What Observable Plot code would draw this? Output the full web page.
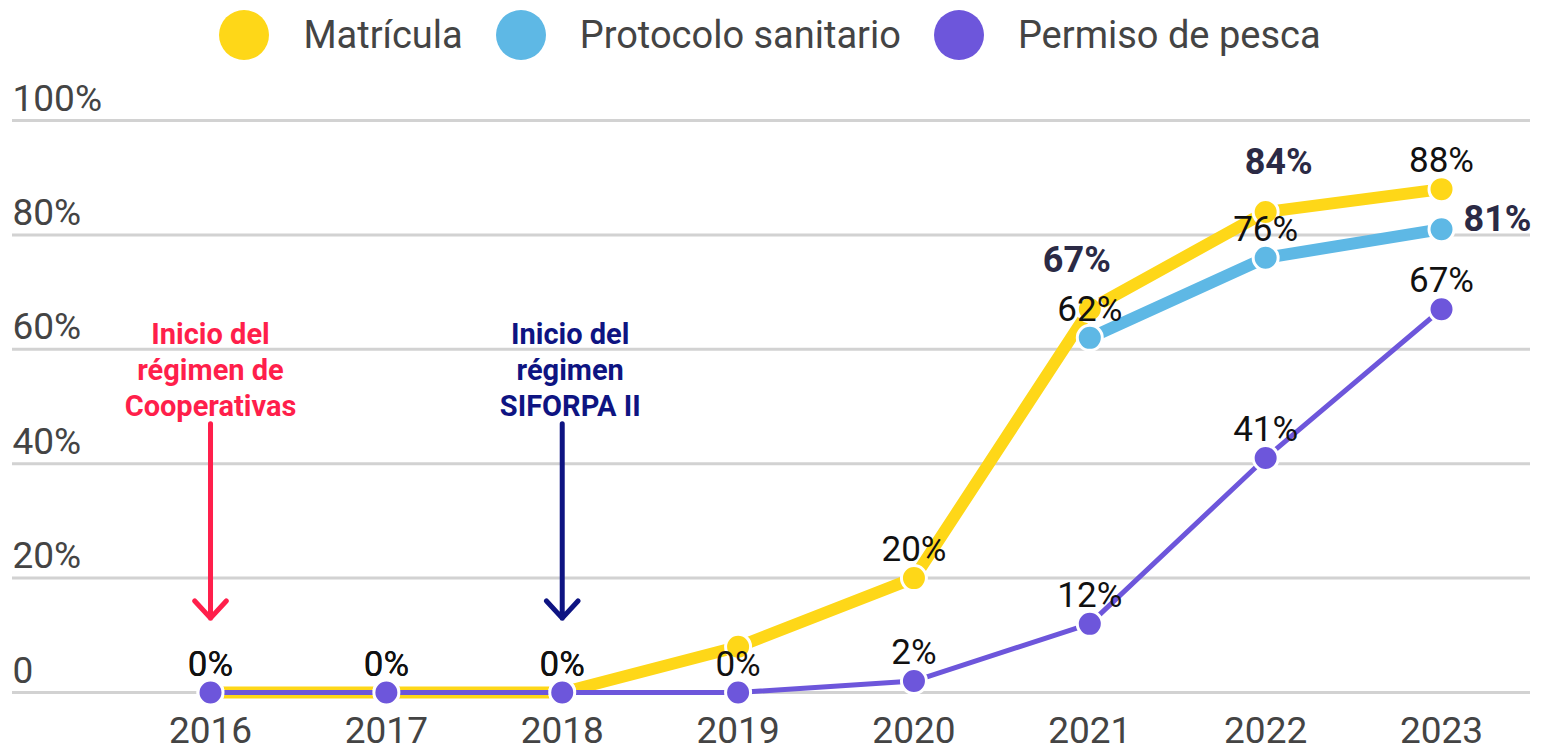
<!DOCTYPE html>
<html>
<head>
<meta charset="utf-8">
<script src="https://cdn.jsdelivr.net/npm/d3@7"></script>
<script src="https://cdn.jsdelivr.net/npm/@observablehq/plot@0.6"></script>
<style>
  html, body { margin: 0; padding: 0; background: #fff; font-family: Roboto, "Noto Sans", sans-serif; }
  #legend { height: 75px; display: flex; align-items: center; justify-content: center; padding: 0 10px 5px 0; box-sizing: border-box; }
  .item { display: flex; align-items: center; margin: 0 16.5px; }
  .sw { width: 50px; height: 50px; border-radius: 50%; margin-right: 34px; }
  .lab { font-size: 38px; color: #444; line-height: 1; }
  #chart svg { display: block; }
</style>
</head>
<body>
<div id="legend"></div>
<div id="chart"></div>
<script>
// ---- data ----
const years = [2016, 2017, 2018, 2019, 2020, 2021, 2022, 2023];
const seriesNames = ["Matrícula", "Protocolo sanitario", "Permiso de pesca"];
const seriesColors = ["#FED718", "#5EB8E5", "#6D56DB"];
const matricula = [0, 0, 0, 8, 20, 67, 84, 88];
const protocoloYears = [2021, 2022, 2023];
const protocolo = [62, 76, 81];
const permiso = [0, 0, 0, 0, 2, 12, 41, 67];
const yTicks = [0, 20, 40, 60, 80, 100];
const yTickLabels = ["0", "20%", "40%", "60%", "80%", "100%"];
const matriculaUnlabeled = [2019];
const annotationYears = [2016, 2018];
const annotationTexts = ["Inicio del\nrégimen de\nCooperativas", "Inicio del\nrégimen\nSIFORPA II"];
const annotationFrom = [47, 47];
const annotationTo = [13, 13];

// ---- tables ----
const rowsM = years.map((y, i) => ({series: seriesNames[0], year: y, value: matricula[i]}));
const rowsP = protocoloYears.map((y, i) => ({series: seriesNames[1], year: y, value: protocolo[i]}));
const rowsS = years.map((y, i) => ({series: seriesNames[2], year: y, value: permiso[i]}));
const ann = annotationYears.map((y, i) => ({year: y, text: annotationTexts[i], from: annotationFrom[i], to: annotationTo[i]}));
const ticks = yTicks.map((v, i) => ({v, label: yTickLabels[i]}));

const key = d => d.series + "-" + d.year;
const boldAbove = {"Matrícula-2021": -13, "Matrícula-2022": 13};
const boldRight = new Set(["Protocolo sanitario-2023"]);
const allLabels = [...rowsM.filter(d => !matriculaUnlabeled.includes(d.year)), ...rowsP, ...rowsS];
const regular = allLabels.filter(d => !(key(d) in boldAbove) && !boldRight.has(key(d)));
const boldL = allLabels.filter(d => key(d) === "Matrícula-2021");
const boldR = allLabels.filter(d => key(d) === "Matrícula-2022");
const boldSide = allLabels.filter(d => boldRight.has(key(d)));
const pct = d => d.value + "%";

// ---- legend ----
const legend = document.getElementById("legend");
seriesNames.forEach((n, i) => {
  const it = document.createElement("div");
  it.className = "item";
  it.innerHTML = `<div class="sw" style="background:${seriesColors[i]}"></div><div class="lab">${n}</div>`;
  legend.appendChild(it);
});

const labelFont = "Roboto, sans-serif";
const chart = Plot.plot({
  width: 1550,
  height: 676,
  marginTop: 45,
  marginBottom: 59,
  marginLeft: 12,
  marginRight: 20,
  x: {type: "linear", domain: [2014.874, 2023.506], axis: null},
  y: {domain: [0, 100], axis: null},
  style: {fontFamily: labelFont, background: "#fff"},
  marks: [
    Plot.ruleY(ticks, {y: "v", stroke: "#d2d2d2", strokeWidth: 3}),
    Plot.text(ticks, {y: "v", text: "label", frameAnchor: "left", textAnchor: "start", lineAnchor: "bottom", dy: -10, fontSize: 37, fill: "#444"}),
    Plot.text(years, {x: d => d, text: d => String(d), frameAnchor: "bottom", lineAnchor: "bottom", dy: 50, fontSize: 37, fill: "#444"}),
    // annotations
    Plot.arrow(ann.slice(0, 1), {x: "year", y1: "from", y2: "to", stroke: "#FF1F4B", strokeWidth: 5, headLength: 7, headAngle: 85, strokeLinejoin: "round"}),
    Plot.arrow(ann.slice(1), {x: "year", y1: "from", y2: "to", stroke: "#0E1482", strokeWidth: 5, headLength: 7, headAngle: 85, strokeLinejoin: "round"}),
    Plot.text(ann.slice(0, 1), {x: "year", y: "from", text: "text", lineAnchor: "bottom", dy: -8, fontSize: 29, fontWeight: "bold", lineHeight: 1.24, fill: "#FF1F4B"}),
    Plot.text(ann.slice(1), {x: "year", y: "from", text: "text", lineAnchor: "bottom", dy: -8, dx: 8, fontSize: 29, fontWeight: "bold", lineHeight: 1.24, fill: "#0E1482"}),
    // series
    Plot.line(rowsM, {x: "year", y: "value", stroke: seriesColors[0], strokeWidth: 12}),
    Plot.dot(rowsM, {x: "year", y: "value", r: 12.5, fill: seriesColors[0], stroke: "#fff", strokeWidth: 3}),
    Plot.line(rowsP, {x: "year", y: "value", stroke: seriesColors[1], strokeWidth: 12}),
    Plot.dot(rowsP, {x: "year", y: "value", r: 12.5, fill: seriesColors[1], stroke: "#fff", strokeWidth: 3}),
    Plot.line(rowsS, {x: "year", y: "value", stroke: seriesColors[2], strokeWidth: 5}),
    Plot.dot(rowsS, {x: "year", y: "value", r: 12.5, fill: seriesColors[2], stroke: "#fff", strokeWidth: 3}),
    // value labels
    Plot.text(regular, {x: "year", y: "value", text: pct, lineAnchor: "bottom", dy: -17, fontSize: 35, fill: "#111"}),
    Plot.text(boldL, {x: "year", y: "value", text: pct, lineAnchor: "bottom", dx: -13, dy: -37, fontSize: 36, fontWeight: "bold", fill: "#2B2A45"}),
    Plot.text(boldR, {x: "year", y: "value", text: pct, lineAnchor: "bottom", dx: 13, dy: -38, fontSize: 36, fontWeight: "bold", fill: "#2B2A45"}),
    Plot.text(boldSide, {x: "year", y: "value", text: pct, textAnchor: "start", lineAnchor: "middle", dx: 22, dy: -10, fontSize: 36, fontWeight: "bold", fill: "#2B2A45"})
  ]
});
document.getElementById("chart").appendChild(chart);
</script>
</body>
</html>
